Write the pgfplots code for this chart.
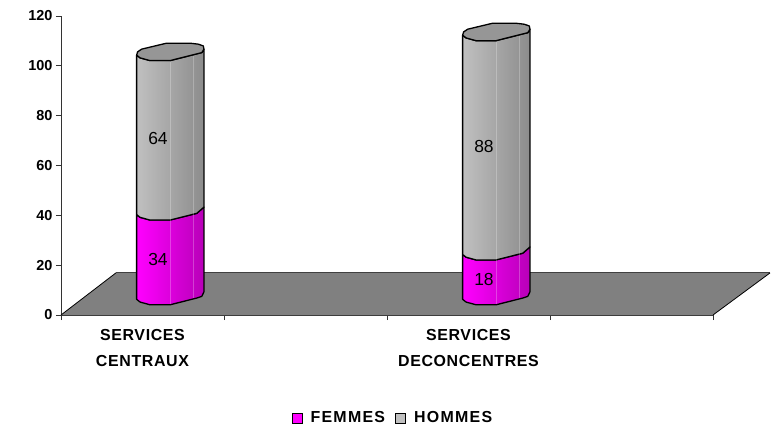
\documentclass[border=0pt]{standalone}
\usepackage{fontspec}
\setmainfont{Liberation Sans}
\usepackage{pgfplots}
\pgfplotsset{compat=1.18}
\definecolor{floorgray}{HTML}{808080}
\definecolor{capgray}{HTML}{969696}
\definecolor{lineg}{HTML}{333333}
\definecolor{fem}{HTML}{FF00FF}
\definecolor{femdark}{HTML}{B800B8}
\definecolor{hom}{HTML}{C0C0C0}
\definecolor{homdark}{HTML}{8C8C8C}
\tikzset{
  femmes/.style={draw=black, line width=1.3pt, line join=round, shading=axis, left color=fem, right color=femdark, shading angle=90},
  hommes/.style={draw=black, line width=1.3pt, line join=round, shading=axis, left color=hom, right color=homdark, shading angle=90},
  facet/.style={draw=white, line width=0.4pt, opacity=0.25},
}
\pgfplotsset{
  square legend/.style={legend image code/.code={
    \draw[#1, line width=1pt] (0bp,-5bp) rectangle (10bp,5bp);}},
}
\begin{document}
\begin{tikzpicture}
\useasboundingbox (-61bp,-113bp) rectangle (717bp,315bp);
\begin{axis}[
  at={(0,0)}, anchor=south west,
  width=652bp, height=299bp, scale only axis,
  xmin=0, xmax=4, ymin=0, ymax=120,
  clip=false,
  axis x line*=bottom, axis y line*=left,
  axis line style={-, draw=lineg, line width=0.9pt},
  every tick/.style={draw=lineg, line width=0.7pt},
  tick align=outside, major tick length=5bp,
  xtick={0,1,2,3,4}, xticklabels={},
  ytick={0,20,40,60,80,100,120},
  yticklabel style={font=\fontsize{14.5}{14.5}\selectfont\bfseries, /pgf/number format/assume math mode=true},
  extra x ticks={0.5,2.5},
  extra x tick labels={{SERVICES\\[9pt]CENTRAUX},{SERVICES\\[9pt]DECONCENTRES}},
  extra x tick style={major tick length=0pt, tick label style={font=\fontsize{16}{17}\selectfont\bfseries\addfontfeature{LetterSpace=4}, align=center, yshift=-11bp}},
  legend style={at={(0.509,-0.3445)}, anchor=center, draw=none, fill=none, legend columns=2,
    font=\fontsize{16}{16}\selectfont\bfseries\addfontfeature{LetterSpace=8},
    /tikz/every even column/.append style={column sep=8bp},
    /tikz/every odd column/.append style={column sep=6bp}},
  legend cell align=left,
  nodes near coords align={center},
  every node near coord/.append style={anchor=center, font=\fontsize{17.5}{17.5}\selectfont, text=black},
]
% floor
\addplot[forget plot, fill=floorgray, draw=none] coordinates {(0,0) (4,0) (4.35,16.9) (0.337,16.9)} --cycle;
\addplot[forget plot, draw=black!75, line width=1.1pt] coordinates {(0.337,16.9) (4.35,16.9)};
\addplot[forget plot, draw=black, line width=0.8pt] coordinates {(0,0) (0.337,16.9)};
\addplot[forget plot, draw=black, line width=0.8pt] coordinates {(4,0) (4.35,16.9)};
% services centraux
\addplot[forget plot, femmes] coordinates {(0.464,6.3) (0.485,5.2) (0.546,4.1) (0.669,4.1) (0.833,6.8) (0.864,7.5) (0.877,9.3) (0.877,43.3) (0.833,40.8) (0.669,38.1) (0.546,38.1) (0.485,39.2) (0.464,40.3)} --cycle;
\addplot[forget plot, hommes] coordinates {(0.464,40.3) (0.485,39.2) (0.546,38.1) (0.669,38.1) (0.833,40.8) (0.877,43.3) (0.877,106.7) (0.864,105.3) (0.833,104.8) (0.669,102.1) (0.546,102.1) (0.485,103.2) (0.464,104.3)} --cycle;
\addplot[forget plot, fill=capgray, draw=black, line width=1.3pt, line join=round] coordinates {(0.464,104.3) (0.485,103.2) (0.546,102.1) (0.669,102.1) (0.833,104.8) (0.864,105.3) (0.877,106.7) (0.873,108.0) (0.842,108.7) (0.791,109.1) (0.648,109.1) (0.495,106.7) (0.47,105.6)} --cycle;
\addplot[forget plot, facet] coordinates {(0.669,4.6) (0.669,101.6)};
\addplot[forget plot, facet] coordinates {(0.81,6.9) (0.81,103.9)};
% services deconcentres
\addplot[forget plot, femmes] coordinates {(2.464,6.3) (2.485,5.2) (2.546,4.1) (2.669,4.1) (2.833,6.8) (2.864,7.5) (2.877,9.3) (2.877,27.3) (2.833,24.8) (2.669,22.1) (2.546,22.1) (2.485,23.2) (2.464,24.3)} --cycle;
\addplot[forget plot, hommes] coordinates {(2.464,24.3) (2.485,23.2) (2.546,22.1) (2.669,22.1) (2.833,24.8) (2.877,27.3) (2.877,114.7) (2.864,113.3) (2.833,112.8) (2.669,110.1) (2.546,110.1) (2.485,111.2) (2.464,112.3)} --cycle;
\addplot[forget plot, fill=capgray, draw=black, line width=1.3pt, line join=round] coordinates {(2.464,112.3) (2.485,111.2) (2.546,110.1) (2.669,110.1) (2.833,112.8) (2.864,113.3) (2.877,114.7) (2.873,116.0) (2.842,116.7) (2.791,117.1) (2.648,117.1) (2.495,114.7) (2.47,113.6)} --cycle;
\addplot[forget plot, facet] coordinates {(2.669,4.6) (2.669,109.6)};
\addplot[forget plot, facet] coordinates {(2.81,6.9) (2.81,111.9)};
% value labels
\addplot[forget plot, draw=none, mark=none, nodes near coords, point meta=explicit symbolic] coordinates {(0.595,70.7) [64] (0.595,22.4) [34] (2.595,67.5) [88] (2.595,14.4) [18]};
\addlegendimage{square legend={fill=fem, draw=black}}
\addlegendentry{FEMMES}
\addlegendimage{square legend={fill=hom, draw=black}}
\addlegendentry{HOMMES}
\end{axis}
\end{tikzpicture}
\end{document}
